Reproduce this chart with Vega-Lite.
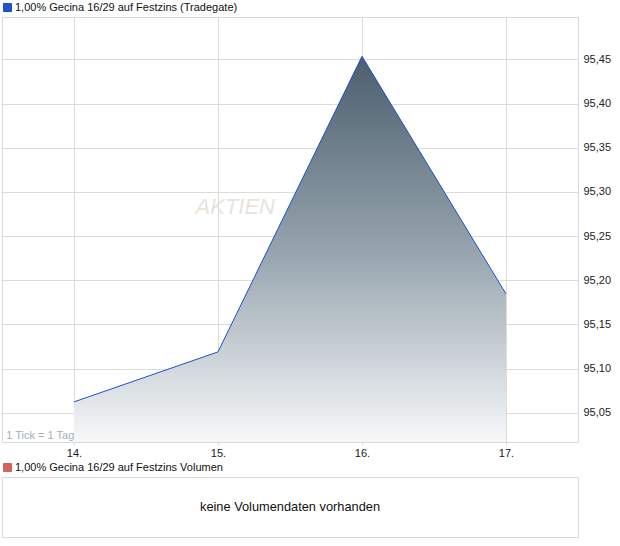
{
  "$schema": "https://vega.github.io/schema/vega-lite/v6.json",
  "padding": {"left": 1, "top": 1, "right": 0, "bottom": 0},
  "background": "white",
  "config": {
    "font": "Liberation Sans",
    "view": {"stroke": "#d8d8d8"},
    "axis": {"labelFont": "Liberation Sans", "labelFontSize": 11, "labelColor": "#222", "gridColor": "#dcdcdc", "domain": false, "tickColor": "#dcdcdc", "tickSize": 3, "title": null},
    "legend": {"labelFont": "Liberation Sans", "labelFontSize": 11, "labelColor": "#111", "labelLimit": 400}
  },
  "spacing": 2,
  "resolve": {"scale": {"color": "independent"}, "legend": {"color": "independent"}},
  "vconcat": [
    {
      "width": 576,
      "height": 425,
      "data": {"values": [
        {"day": 14, "price": 95.0624, "series": "1,00% Gecina 16/29 auf Festzins (Tradegate)"},
        {"day": 15, "price": 95.119, "series": "1,00% Gecina 16/29 auf Festzins (Tradegate)"},
        {"day": 16, "price": 95.4535, "series": "1,00% Gecina 16/29 auf Festzins (Tradegate)"},
        {"day": 17, "price": 95.1846, "series": "1,00% Gecina 16/29 auf Festzins (Tradegate)"}
      ]},
      "encoding": {
        "x": {"field": "day", "type": "quantitative", "scale": {"domain": [13.5, 17.5], "nice": false, "zero": false},
              "axis": {"values": [14, 15, 16, 17], "labelExpr": "datum.value + '.'", "grid": true, "labelPadding": 2}},
        "y": {"field": "price", "type": "quantitative", "scale": {"domain": [95.017, 95.498], "nice": false, "zero": false},
              "axis": {"orient": "right", "values": [95.05, 95.1, 95.15, 95.2, 95.25, 95.3, 95.35, 95.4, 95.45], "labelExpr": "replace(format(datum.value, '.2f'), '.', ',')", "grid": true, "ticks": false, "labelPadding": 5}}
      },
      "layer": [
        {
          "data": {"values": [{"day": 15.12, "price": 95.283, "label": "AKTIEN"}]},
          "mark": {"type": "text", "fontSize": 22, "fontStyle": "italic", "color": "#e9e3dc", "font": "Liberation Sans"},
          "encoding": {"text": {"field": "label"}}
        },
        {
          "mark": {"type": "area", "line": false,
            "color": {"gradient": "linear", "x1": 0, "y1": 0, "x2": 0, "y2": 1,
              "stops": [{"offset": 0, "color": "#4b5f6d"}, {"offset": 0.5, "color": "#95a3ad"}, {"offset": 1, "color": "#f7f8f9"}]}},
          "encoding": {"y2": {"datum": 95.017}}
        },
        {
          "mark": {"type": "line", "strokeWidth": 1},
          "encoding": {
            "color": {"field": "series", "type": "nominal", "scale": {"range": ["#1b4fd0"]},
              "legend": {"title": null, "orient": "none", "legendX": 0, "legendY": -15, "padding": 0, "symbolType": "square", "symbolSize": 64, "labelOffset": 2,
                "encode": {"symbols": {"update": {"fill": {"value": "#1f56c8"}, "stroke": {"value": "#0d2a70"}, "strokeWidth": {"value": 1}}}}}}
          }
        },
        {
          "data": {"values": [{"day": 13.53, "price": 95.0185, "label": "1 Tick = 1 Tag"}]},
          "mark": {"type": "text", "align": "left", "baseline": "bottom", "fontSize": 11, "color": "#a0aebb"},
          "encoding": {"text": {"field": "label"}}
        }
      ]
    },
    {
      "width": 576,
      "height": 60,
      "data": {"values": [{"px": 0.5, "py": 0.5, "msg": "keine Volumendaten vorhanden", "series": "1,00% Gecina 16/29 auf Festzins Volumen"}]},
      "encoding": {
        "x": {"field": "px", "type": "quantitative", "scale": {"domain": [0, 1]}, "axis": null},
        "y": {"field": "py", "type": "quantitative", "scale": {"domain": [0, 1]}, "axis": null}
      },
      "layer": [
        {
          "mark": {"type": "text", "fontSize": 12.8, "align": "center", "baseline": "middle", "color": "#111111"},
          "encoding": {"text": {"field": "msg"}}
        },
        {
          "mark": {"type": "line", "strokeWidth": 0},
          "encoding": {
            "color": {"field": "series", "type": "nominal", "scale": {"range": ["#d9605e"]},
              "legend": {"title": null, "orient": "none", "legendX": 0, "legendY": -15, "padding": 0, "symbolType": "square", "symbolSize": 64, "labelOffset": 2,
                "encode": {"symbols": {"update": {"fill": {"value": "#d9605e"}, "stroke": {"value": "#6b1a1a"}, "strokeWidth": {"value": 1}}}}}}
          }
        }
      ]
    }
  ]
}
